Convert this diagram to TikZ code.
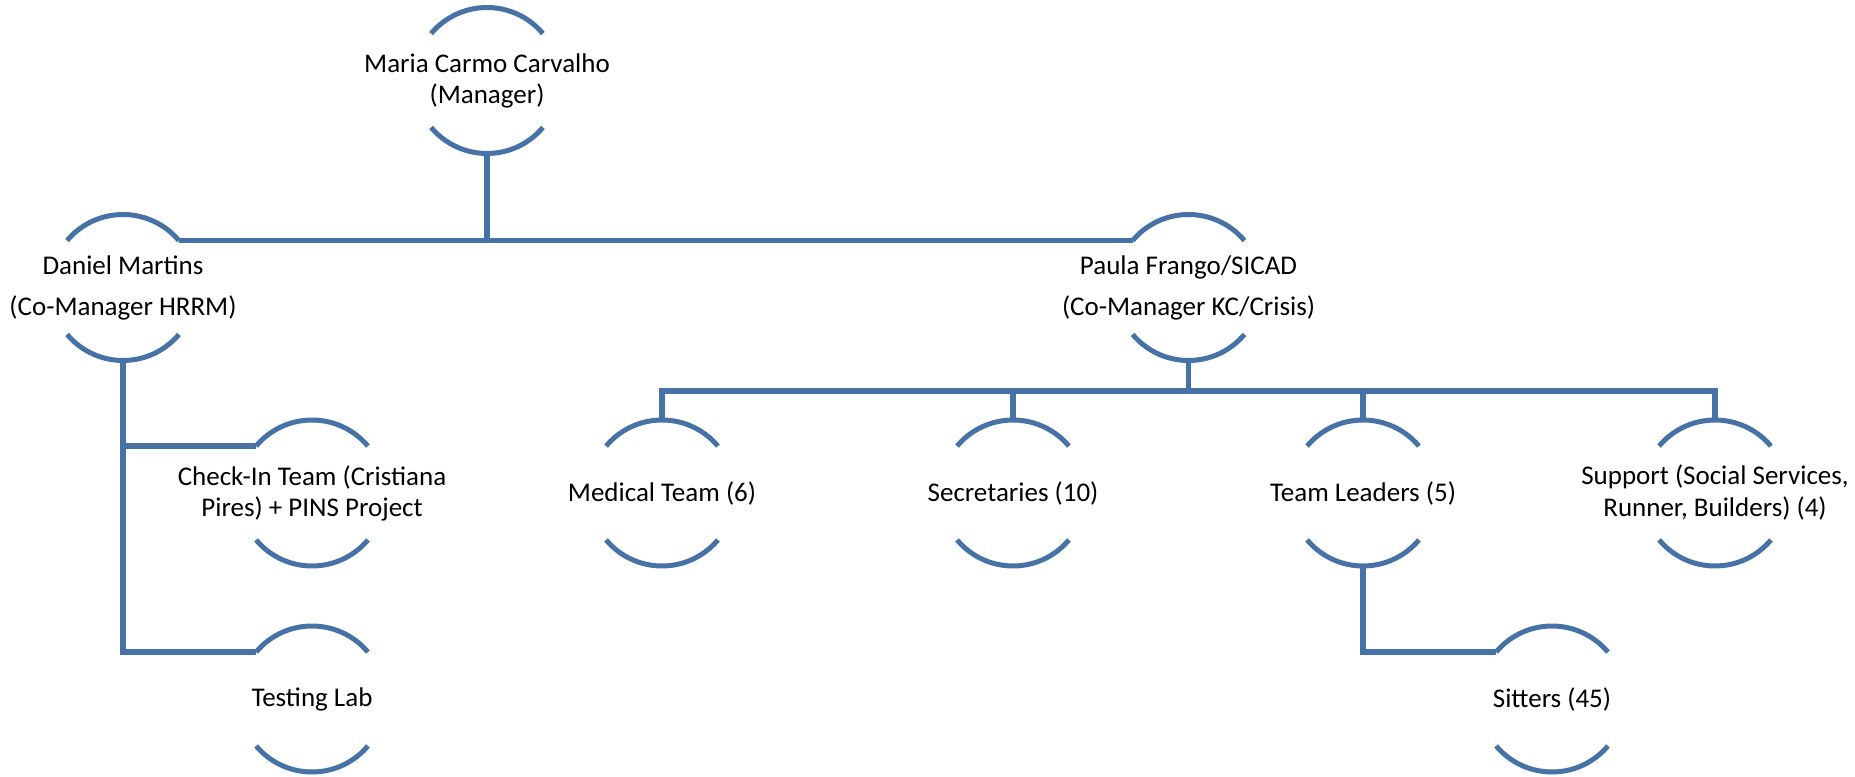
\documentclass[tikz,border=0pt]{standalone}
\usepackage{fontspec}
\setmainfont{Carlito}
\usetikzlibrary{calc}

\definecolor{orgblue}{HTML}{4672A6}

\begin{document}
\begin{tikzpicture}[x=0.5pt, y=0.5pt, line join=miter,
    unit/.style={circle, minimum size=73pt, inner sep=0pt, outer sep=0pt},
    unittext/.style={align=center, inner sep=0pt, font=\fontsize{13.5}{15.5}\selectfont},
    widetext/.style={unittext, font=\fontsize{13.5}{20.5}\selectfont},
    org/.style={draw=orgblue, line width=2.6pt},
    rim/.style={draw=orgblue, line width=2.5pt}]

    \useasboundingbox (0,0) rectangle (1855,776);

    % Define the units (circle centres)
    \node[unit] (mgr)     at (487,695.5) {};
    \node[unit] (daniel)  at (123,488.5) {};
    \node[unit] (paula)   at (1188.5,488.5) {};
    \node[unit] (checkin) at (312,283) {};
    \node[unit] (testing) at (312,77) {};
    \node[unit] (medical) at (662,283) {};
    \node[unit] (secret)  at (1013,283) {};
    \node[unit] (leaders) at (1363,283) {};
    \node[unit] (support) at (1715,283) {};
    \node[unit] (sitters) at (1552,77) {};

    % Bus height under Paula
    \coordinate (bus) at (0,385);

    % 1. Texts of the units
    \node[unittext] (mgr-t) at (mgr) {Maria Carmo Carvalho\\(Manager)};
    \node[widetext] (daniel-t) at (daniel) {Daniel Martins\\(Co-Manager HRRM)};
    \node[widetext] (paula-t) at (paula) {Paula Frango/SICAD\\(Co-Manager KC/Crisis)};
    \node[unittext] (checkin-t) at (checkin) {Check-In Team (Cristiana\\Pires) + PINS Project};
    \node[unittext] (testing-t) at (testing) {Testing Lab};
    \node[unittext] (medical-t) at (medical) {Medical Team (6)};
    \node[unittext] (secret-t) at (secret) {Secretaries (10)};
    \node[unittext] (leaders-t) at (leaders) {Team Leaders (5)};
    \node[unittext, font=\fontsize{13.5}{16}\selectfont] (support-t) at (support) {Support (Social Services,\\Runner, Builders) (4)};
    \node[unittext] (sitters-t) at (sitters) {Sitters (45)};

    % 2. Upper and lower arcs of every unit
    \draw[rim] (mgr.40) arc (40:140:36.5pt);
    \draw[rim] (mgr.220) arc (220:320:36.5pt);
    \draw[rim] (daniel.40) arc (40:140:36.5pt);
    \draw[rim] (daniel.220) arc (220:320:36.5pt);
    \draw[rim] (paula.40) arc (40:140:36.5pt);
    \draw[rim] (paula.220) arc (220:320:36.5pt);
    \draw[rim] (checkin.40) arc (40:140:36.5pt);
    \draw[rim] (checkin.220) arc (220:320:36.5pt);
    \draw[rim] (testing.40) arc (40:140:36.5pt);
    \draw[rim] (testing.220) arc (220:320:36.5pt);
    \draw[rim] (medical.40) arc (40:140:36.5pt);
    \draw[rim] (medical.220) arc (220:320:36.5pt);
    \draw[rim] (secret.40) arc (40:140:36.5pt);
    \draw[rim] (secret.220) arc (220:320:36.5pt);
    \draw[rim] (leaders.40) arc (40:140:36.5pt);
    \draw[rim] (leaders.220) arc (220:320:36.5pt);
    \draw[rim] (support.40) arc (40:140:36.5pt);
    \draw[rim] (support.220) arc (220:320:36.5pt);
    \draw[rim] (sitters.40) arc (40:140:36.5pt);
    \draw[rim] (sitters.220) arc (220:320:36.5pt);

    % 3. Manager to the two co-managers
    \draw[org] (mgr.south) -- (mgr.south |- daniel.40);
    \draw[org] (daniel.40) -- (paula.140);

    % 4. Daniel's branch
    \draw[org] (daniel.south) |- (testing.140);
    \draw[org] (daniel.south |- checkin.140) -- (checkin.140);

    % 5. Paula's bus
    \draw[org] (paula.south) -- (paula.south |- bus);
    \draw[org] (medical.north) -- (medical.north |- bus) -- (support.north |- bus) -- (support.north);
    \draw[org] (secret.north) -- (secret.north |- bus);
    \draw[org] (leaders.north) -- (leaders.north |- bus);

    % 6. Team leaders to sitters
    \draw[org] (leaders.south) |- (sitters.140);

\end{tikzpicture}
\end{document}
